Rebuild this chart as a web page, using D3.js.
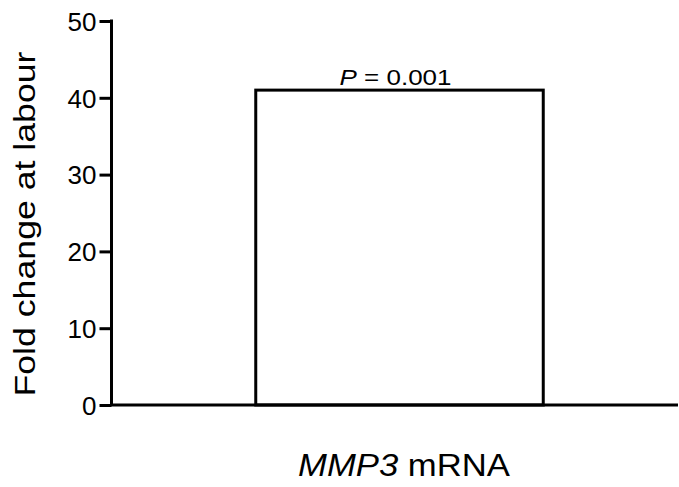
<!DOCTYPE html>
<html lang="en">
<head>
    <title>MMP3 fold change</title>
    <script src="https://d3js.org/d3.v7.min.js"></script>
    <style>
        body { margin: 0; background: #fff; }
        text { font-family: "Liberation Sans", Arial, sans-serif; fill: #000; }
    </style>
</head>
<body>
    <div id="chart"></div>

    <script>
        // Data for the chart
        const categories = ["MMP3"];
        const values = [41];
        const yTicks = [0, 10, 20, 30, 40, 50];
        const pLabel = "0.001";

        const width = 679;
        const height = 487;

        const svg = d3.select("#chart")
            .append("svg")
            .attr("width", width)
            .attr("height", height);

        // Scales
        const x = d3.scaleBand()
            .domain(categories)
            .range([112, 687])
            .padding(1 / 3);

        const y = d3.scaleLinear()
            .domain([0, 50])
            .range([405, 21]);

        // Bar
        svg.selectAll("rect.bar")
            .data(values)
            .enter()
            .append("rect")
            .attr("class", "bar")
            .attr("x", (d, i) => x(categories[i]))
            .attr("y", d => y(d))
            .attr("width", x.bandwidth())
            .attr("height", d => y(0) - y(d))
            .attr("fill", "#fff")
            .attr("stroke", "#000")
            .attr("stroke-width", 3);

        // P value above bar
        svg.selectAll("text.pval")
            .data(values)
            .enter()
            .append("text")
            .attr("class", "pval")
            .attr("x", (d, i) => x(categories[i]) + x.bandwidth() / 2 - 4)
            .attr("y", d => y(d) - 5)
            .attr("text-anchor", "middle")
            .attr("font-size", 22)
            .attr("textLength", 112)
            .attr("lengthAdjust", "spacingAndGlyphs")
            .html('<tspan font-style="italic">P</tspan> = ' + pLabel);

        // y axis
        const yAxis = svg.append("g")
            .attr("transform", "translate(111.5,0)")
            .call(d3.axisLeft(y).tickValues(yTicks).tickSize(12).tickPadding(3));
        yAxis.select(".domain").attr("stroke-width", 3).attr("d", `M0,${y(50) - 1.5}V${y(0)}`);
        yAxis.selectAll(".tick line").attr("stroke-width", 3);
        yAxis.selectAll(".tick text")
            .attr("font-size", 26)
            .attr("font-family", "Liberation Sans, Arial, sans-serif")
            .attr("dy", "0.36em");

        // x axis baseline
        svg.append("line")
            .attr("x1", 110)
            .attr("x2", 678)
            .attr("y1", y(0))
            .attr("y2", y(0))
            .attr("stroke", "#000")
            .attr("stroke-width", 3);

        // Axis titles
        svg.append("text")
            .attr("transform", "translate(35,224) rotate(-90)")
            .attr("text-anchor", "middle")
            .attr("font-size", 30)
            .attr("textLength", 345)
            .attr("lengthAdjust", "spacingAndGlyphs")
            .text("Fold change at labour");

        svg.append("text")
            .attr("x", 404)
            .attr("y", 476)
            .attr("text-anchor", "middle")
            .attr("font-size", 32)
            .attr("textLength", 212)
            .attr("lengthAdjust", "spacingAndGlyphs")
            .html('<tspan font-style="italic">MMP3</tspan> mRNA');
    </script>
</body>
</html>
